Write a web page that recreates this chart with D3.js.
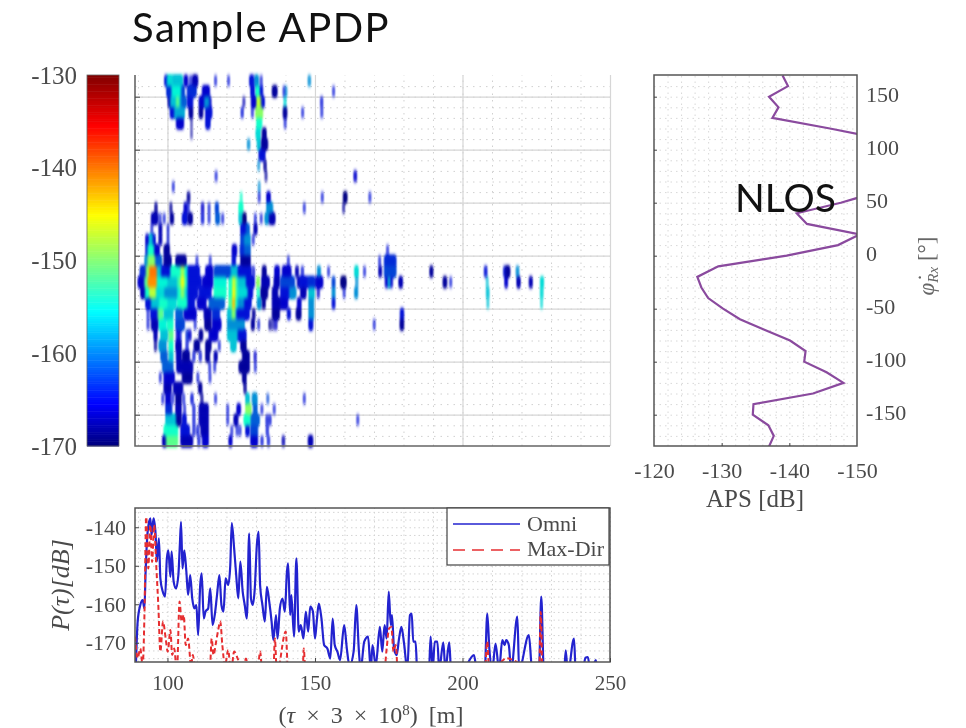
<!DOCTYPE html>
<html>
<head>
<meta charset="utf-8">
<script src="https://d3js.org/d3.v7.min.js"></script>
<style>
  html, body { margin: 0; padding: 0; background: #fff; }
  svg { display: block; }
  text { font-family: "Liberation Serif", serif; fill: #4a4a4a; }
  .slide { font-family: Lato, "Noto Sans", sans-serif; fill: #111; }
</style>
</head>
<body>
<div id="chart"></div>
<script>
// colour bar
const colorTicks = [-130, -140, -150, -160, -170];
const jetStops = [[-170, "#00007f"], [-165.6, "#0000ff"], [-155.6, "#00ffff"], [-145.2, "#ffff00"], [-135.6, "#ff0000"], [-130, "#7f0000"]];

// APDP: phi of the top edge of each 10 degree row, and [tau start, tau end, dB] runs per row
const apdpPhi = [170, 160, 150, 140, 130, 120, 110, 100, 90, 80, 70, 60, 50, 40, 30, 20, 10, 0, -10, -20, -30, -40, -50, -60, -70, -80, -90, -100, -110, -120, -130, -140, -150, -160, -170];
const apdpRuns = [
  [[99.1,99.8,-165],[99.8,101.7,-157],[101.7,105.1,-158],[105.7,106.8,-166],[107.6,108,-165],[108.5,110.2,-167],[116.1,116.5,-165],[120.5,120.9,-165],[127.9,129.2,-165],[129.6,130.8,-160],[131.6,132,-165],[147.8,148.4,-160]],
  [[99.8,101.4,-164],[101.4,104.6,-156],[104.6,105.7,-163],[106.8,109.7,-164],[111.9,114.2,-166],[128.3,129.4,-165],[130,131.1,-155],[131.4,132.2,-165],[135.6,137.1,-168],[139.3,139.7,-165],[140,140.4,-160],[156.1,156.5,-165]],
  [[100.3,101,-167],[101,102.9,-158],[102.9,104,-152],[104,104.6,-158],[104.6,106.3,-162],[106.8,108.5,-165],[110.8,112.5,-166],[112.5,114.2,-160],[114.2,114.7,-166],[125.7,126.1,-167],[128.5,130,-166],[130.3,131.7,-148],[131.7,132.8,-165],[139.6,140.1,-157],[152,152.5,-165]],
  [[101,102.3,-165],[102.3,105.7,-159],[107.4,108.5,-168],[110.8,111.9,-168],[113,115,-165],[125.1,125.6,-165],[128.6,129,-165],[130,132.2,-150],[139.3,140.4,-168],[145.6,146,-165],[152.1,152.5,-165]],
  [[103.1,105.4,-166],[108,108.3,-168],[113,114.4,-165],[130.3,131.9,-155],[139.7,140.1,-165]],
  [[108,108.3,-168],[130.1,131.4,-157],[132.2,133.4,-168]],
  [[127.2,127.8,-160],[130.5,131.4,-158],[131.9,133.9,-168]],
  [[131.1,133,-165]],
  [[130.7,131.1,-160],[132.8,133.4,-168]],
  [[116.3,116.7,-165],[133.2,133.6,-168],[163.3,164,-166]],
  [[101.8,102.2,-165],[130.9,131.3,-160]],
  [[106.8,107.5,-168],[124.8,125.2,-155],[130.9,131.3,-165],[133.7,134.8,-166],[152.3,152.7,-165],[159.7,160.8,-169],[168.4,168.8,-165]],
  [[95.8,96.4,-168],[100.9,101.4,-168],[105.7,106.5,-166],[106.9,107.3,-165],[111.6,112.2,-166],[113.9,114.3,-165],[116.3,117.2,-163],[124.3,125.5,-155],[133.7,135.6,-160],[146.2,146.6,-165],[159.5,159.9,-168]],
  [[94.6,96.7,-167],[97.3,97.7,-165],[98.7,99.1,-165],[101,102,-168],[105.1,106.6,-165],[107,108.4,-168],[111.6,112.2,-165],[113.9,114.3,-165],[116.4,117.6,-162],[118.5,118.9,-165],[124.3,125.2,-158],[125.5,126.6,-169],[129.6,130,-165],[131.6,132,-165],[133.1,134.2,-160],[134.5,136.4,-167]],
  [[94.5,94.9,-165],[97.2,98,-167],[100,100.4,-165],[124.9,126.6,-165],[126.6,127.7,-162],[129.4,130.3,-167]],
  [[92.7,93.5,-166],[93.8,95,-158],[95,95.8,-165],[97.2,98,-167],[100,100.4,-165],[124.9,126,-163],[126,128,-160],[128.9,129.3,-165]],
  [[92.7,93.3,-165],[93.3,95.5,-155],[95.5,97.2,-166],[98.9,100.6,-168],[122,123.4,-166],[124.7,126,-164],[126,128,-162],[174.4,174.8,-165]],
  [[92.4,93.3,-160],[93.3,95.8,-150],[95.8,98,-162],[98.9,101.2,-168],[102.9,106.3,-168],[109.8,110.2,-165],[114.3,114.7,-165],[122,123,-165],[124.9,128,-168],[140.8,141.2,-165],[171.7,172.1,-165],[173.6,177.4,-164]],
  [[90.8,92.7,-164],[92.7,93.8,-150],[93.8,96.4,-140],[96.4,97.8,-158],[97.8,101,-165],[101,103.4,-155],[103.4,104.5,-155],[104.5,105.8,-149],[105.8,106.8,-156],[106.8,110.8,-165],[113,115.3,-166],[115.9,121.5,-163],[121.5,123.8,-158],[123.8,128.3,-165],[128.9,129.4,-165],[132.2,133.4,-168],[136.4,137.9,-166],[139,141.8,-166],[143.5,144.3,-167],[145.5,146,-165],[150.9,151.8,-160],[154.4,154.8,-165],[163.5,164.6,-157],[166.6,167,-165],[171.7,172.5,-167],[173.6,177.4,-163],[189,189.9,-168],[207.5,208.2,-165],[214,214.5,-165],[214.6,216,-168],[218.3,219,-160]],
  [[90.1,92.2,-166],[92.2,93.3,-152],[93.3,96.4,-141],[96.4,100,-156],[100,103.4,-158],[103.4,104.5,-153],[104.5,105.8,-146],[105.8,106.8,-154],[106.8,111.4,-165],[111.9,115.3,-166],[115.9,119.8,-156],[120.9,122,-155],[122,123,-147],[123,123.8,-153],[123.8,126.6,-158],[126.6,129.4,-165],[130.3,131.1,-150],[132,134.5,-167],[136.2,137.9,-167],[138.4,143,-163],[144.1,144.7,-167],[144.7,147.5,-165],[147.5,150,-164],[150.3,152.6,-166],[155.9,156.7,-163],[158.8,160.5,-169],[163.9,164.4,-160],[173.9,174.6,-166],[174.8,175.4,-158],[175.6,176.2,-166],[178.5,179.6,-167],[193.5,194.6,-168],[195.8,196.2,-165],[208.2,208.6,-158],[214.4,215.2,-166],[218.5,219.5,-167],[222.7,223.6,-167],[226.5,227.4,-157]],
  [[91,92.4,-167],[92.4,93.8,-155],[93.8,96.1,-148],[96.1,98.9,-157],[98.9,103.4,-160],[103.4,104.5,-155],[104.5,105.8,-150],[105.8,106.8,-157],[106.8,110.2,-165],[110.8,114.7,-165],[115.9,119.8,-155],[120.9,122,-155],[122,123,-145],[123,123.8,-153],[123.8,127.2,-157],[127.2,128.8,-165],[130.5,131.1,-155],[131.7,133.9,-168],[135.6,137.3,-167],[138.4,141.3,-165],[141.3,143.5,-160],[145.2,146.9,-167],[148,149.7,-158],[150.9,151.4,-166],[155.9,156.7,-160],[159.7,160.1,-165],[163.5,164.4,-160],[208.2,208.9,-158],[226.5,227.2,-157]],
  [[92.7,94.4,-165],[94.4,97.2,-158],[97.2,100,-155],[100,102.9,-157],[103.4,106.8,-155],[106.8,109.1,-165],[110.2,113,-166],[114.2,119.3,-162],[120.9,122,-153],[122,123,-143],[123,123.8,-155],[123.8,126,-160],[126,128.3,-165],[130.5,131.7,-160],[132.2,133.1,-168],[135.6,138.4,-167],[138.4,140.7,-166],[144.1,145.2,-166],[148,149.5,-160],[155.9,156.7,-165],[208.4,208.8,-158],[226.6,227,-157]],
  [[93.2,93.6,-165],[94.4,96.7,-165],[96.7,98.4,-152],[98.9,101.8,-158],[102.9,105.1,-162],[105.7,109.7,-166],[112.5,114.7,-167],[115.3,117.6,-164],[120.4,121.8,-158],[121.8,123,-150],[123,123.4,-158],[123.4,127.7,-165],[128.9,129.6,-168],[135.6,137.9,-168],[140.7,141.6,-165],[143.7,145.2,-168],[148,149.5,-160],[179,180,-165]],
  [[93.2,93.6,-165],[94.6,96.7,-167],[97.2,99.5,-156],[100,101.8,-155],[102.9,105.7,-163],[109.2,109.6,-165],[112.7,114.7,-168],[115.3,118.1,-166],[120.4,126,-160],[128.5,129.4,-168],[130.7,131.1,-165],[134.5,135,-168],[135.6,136,-167],[136.5,137,-166],[148,149.2,-165],[169.9,170.3,-165],[178.9,180,-168]],
  [[95.5,96.4,-167],[97.8,100,-158],[100.6,101.8,-152],[103.1,103.7,-166],[104,104.5,-165],[106.4,107,-164],[107.3,107.9,-166],[110.8,111.9,-168],[114.2,117,-166],[120.4,123.8,-158],[123.8,126.6,-165]],
  [[95.7,96.2,-168],[97.2,99.5,-160],[100.6,101.8,-155],[102.9,104.6,-167],[106.4,106.9,-165],[109.1,110.8,-168],[113,114.7,-168],[117.4,117.8,-165],[121.5,123.2,-158],[124.9,126.6,-168]],
  [[97.8,99.8,-162],[100.6,101.8,-158],[103.1,104.6,-167],[105.1,107.4,-168],[108.7,109.2,-165],[110.9,111.4,-165],[113,114.2,-168],[115.9,116.8,-167],[125.5,127.7,-168],[129.5,130,-166]],
  [[98.4,101.8,-162],[103.2,108.5,-167],[114.1,114.5,-165],[115.8,116.2,-165],[124.3,127.7,-168],[129.6,130,-165]],
  [[97.4,97.8,-165],[98.9,102.3,-166],[105.1,108.3,-168],[110.1,110.5,-165],[114.2,114.6,-165],[125.5,126.6,-168]],
  [[98.9,101.2,-167],[102.1,105.1,-167],[110.6,111.6,-168],[126,126.6,-168]],
  [[98.2,98.6,-165],[99.5,101,-166],[101.6,102,-165],[102.9,104.6,-168],[105.3,105.7,-165],[108,108.6,-165],[111.4,111.9,-168],[116.1,116.5,-165],[126.6,127.7,-158],[128.8,130.3,-160],[133.8,134.2,-163],[146.2,146.6,-165]],
  [[99.5,101.4,-164],[102.9,104.6,-167],[105.6,106,-165],[108.7,109.2,-165],[110.8,113.8,-167],[120.2,120.6,-165],[123.6,124.7,-166],[126.6,128.3,-150],[129.2,130.3,-162],[131.8,132.2,-165],[136,136.4,-165]],
  [[99.5,102.9,-158],[102.9,104.6,-168],[105.1,106.3,-165],[108.7,109.2,-165],[110.8,113.8,-167],[120.2,120.6,-165],[122.6,123.8,-167],[126,128,-155],[128.3,131.1,-162],[133.5,134,-165],[134.5,135,-165],[164.3,164.7,-165]],
  [[98.9,103.4,-155],[104.6,107.4,-165],[108.7,109.2,-165],[110,110.5,-165],[111.4,113.8,-167],[121.6,122,-165],[123.4,123.8,-165],[124.4,124.8,-165],[126.6,127.7,-165],[128.3,130.5,-163],[133.6,134.1,-165]],
  [[98.4,99.5,-167],[99.5,103.4,-152],[104.6,108.5,-167],[110.4,110.9,-165],[111.9,113.8,-166],[120.9,121.8,-166],[128.3,130.5,-166],[131.8,132.3,-165],[134,134.5,-165],[139,139.6,-167],[147.8,149.2,-167]]
];

// power delay profile, samples under -175 dB fall off the bottom of the panel
const omniTau = [89.3,89.9,90.8,91.6,92.2,92.6,93.3,94.2,94.6,95.3,96,96.4,97.1,97.6,98.4,99.2,99.8,100.3,101,101.4,102.1,102.9,103.7,104.2,104.6,105.1,105.7,106.4,107,107.7,108.4,109.1,109.8,110.4,111.1,111.6,112.3,112.9,113.8,114.5,115.3,116.1,116.8,117.6,118.3,119,119.7,120.6,121.3,121.8,122.6,123.3,124,124.7,125.5,126.2,126.9,127.7,128.3,128.9,129.6,130.3,130.9,131.4,132.2,133,133.7,134.5,135.3,135.9,136.8,137.3,138.1,139,139.8,140.5,140.9,141.6,142,142.9,143.7,144.5,145.2,146.1,146.9,147.7,148.4,149.3,150,150.6,151.3,152.2,153.1,154.2,155.2,156,156.7,157.6,158.5,159.9,160.8,161.7,163.1,164,164.9,165.5,166.7,168,168.9,169.5,170.6,172,172.8,173.6,174.3,175,175.7,176.1,176.8,177.7,178.5,179.3,180.2,181.3,182.2,182.8,183.3,184.1,184.7,188.6,189.2,189.9,190.6,191.5,192.1,193.5,194.2,195.5,196.2,199.4,203.9,205,207.5,208.4,209.1,210.1,211.2,212.4,213.5,214.3,214.8,215.7,216.5,218.6,219.2,222.5,223.6,225.9,226.7,227.6,234.4,235,235.7,237.8,238.4,240.6,241.7,242.5,243.4,245.2,245.9];
const omniPower = [-176,-164.5,-160.2,-158.9,-161.1,-151.5,-141.1,-137.7,-142,-137.7,-142,-148.9,-142.9,-153.3,-156.7,-158,-148.1,-146,-152.9,-146.3,-154.1,-155.9,-152.4,-144.6,-138.6,-150.7,-146,-151.5,-157.6,-152.4,-158.5,-161.1,-160.2,-168,-155,-152,-163.7,-161.9,-161.1,-155.9,-165.4,-162.4,-157.6,-152.4,-160.2,-161.9,-153.3,-155,-149.8,-138.9,-145.5,-152.4,-158.5,-148.9,-156.7,-160.2,-163.7,-141.6,-158.5,-160.2,-155.9,-144.6,-141.1,-155,-160.2,-164.5,-155.5,-159.3,-164.5,-169.3,-162.8,-168.9,-161.1,-158.5,-161.9,-151.5,-149.4,-162.8,-157.6,-168.4,-148.1,-167.1,-165.4,-168.9,-161.9,-167.1,-160.6,-161.9,-168.9,-164.5,-159.8,-163.7,-170.6,-171.5,-174.1,-163.7,-170.6,-172.3,-174.5,-165.4,-171.5,-176,-172.3,-160.2,-172.3,-177,-169.7,-168.4,-177,-170.6,-176,-165.9,-172.3,-165.4,-168.9,-156.7,-165.4,-162.8,-171.5,-173.2,-168.9,-165.9,-170.2,-177,-162.8,-162.4,-169.7,-169.7,-178,-178,-168.4,-177,-169.7,-169.7,-177,-169.9,-177,-169.9,-178,-178,-173.2,-178,-178,-162.4,-171.5,-177,-170.2,-177,-169.3,-170.6,-169.3,-170.6,-177,-163.2,-177,-168,-177,-178,-158,-178,-178,-172,-178,-168.9,-178,-178,-173.9,-173.7,-178,-174.5,-178];
const maxDirTau = [89,89.9,90.8,91.6,92.2,92.8,93.5,94.2,94.8,95.5,96.2,96.9,97.6,98.5,99.4,100.1,101,101.6,102.3,103.2,104.1,104.8,105.5,106.2,107,108,108.6,109.5,114.3,115,115.6,116.5,117.2,117.9,118.6,119.5,120.6,121.5,122.6,123.8,125.5,126.6,127.7,130.5,131.4,132.2,133.7,135.9,136.4,137.1,140.1,140.9,145.8,146.2,146.8,173.4,174.3,175.1,175.9,176.6,177.4,178.1,199.8,201.2,207.5,208.4,209.1,213.8,214.6,226,226.5,227];
const maxDirPower = [-168.4,-174,-171.5,-176,-162.8,-137.3,-150.7,-139.4,-149,-139.4,-150,-160.2,-172.3,-164.5,-168.9,-172.3,-166.7,-173.2,-171.5,-178,-159.3,-164.5,-162.8,-170.6,-168.9,-176,-173.2,-178,-178,-168.9,-173.2,-169.7,-166.7,-164.5,-170.6,-176,-171.9,-178,-172.3,-174.1,-178,-174.1,-178,-178,-172.3,-178,-178,-178,-168.9,-178,-167.1,-178,-178,-171.5,-178,-178,-171.5,-166.3,-165.9,-172.3,-170.6,-178,-178,-178,-178,-169.7,-178,-174.5,-174,-178,-162,-178];

// angular power spectrum
const apsPhi = [170,160,150,140,130,120,110,100,90,80,70,60,50,40,30,20,10,0,-10,-20,-30,-40,-50,-60,-70,-80,-90,-100,-110,-120,-130,-140,-150,-160,-170,-180];
const apsPower = [-139,-139.8,-137,-138.4,-137.5,-146,-154,-158,-160,-160,-158,-153,-147.6,-141.1,-142.6,-150.4,-147.2,-139.6,-129.5,-126.4,-127,-128,-130.2,-132.7,-136.4,-140.1,-142.4,-142.2,-145.5,-148,-143.5,-134.7,-134.6,-136.9,-137.7,-137];

const svg = d3.select("#chart").append("svg")
    .attr("width", 966)
    .attr("height", 728);

// the source is a soft screenshot of a figure, so everything but the slide text gets a slight blur
const defs = svg.append("defs");
defs.append("filter").attr("id", "soft").attr("x", "-5%").attr("y", "-5%").attr("width", "110%").attr("height", "110%")
    .attr("color-interpolation-filters", "sRGB")
  .append("feGaussianBlur").attr("stdDeviation", 0.5);
const smear = defs.append("filter").attr("id", "smear").attr("x", "-5%").attr("y", "-5%").attr("width", "110%").attr("height", "110%")
    .attr("color-interpolation-filters", "sRGB");
smear.append("feGaussianBlur").attr("stdDeviation", "1.1 1.9");
const heatTone = smear.append("feComponentTransfer");
heatTone.append("feFuncA").attr("type", "table").attr("tableValues", "0 0.6 0.95 1");
heatTone.append("feFuncB").attr("type", "linear").attr("slope", 0.84);

const fig = svg.append("g").attr("filter", "url(#soft)");

const xTau = d3.scaleLinear().domain([89, 250]).range([135, 610]);
const yPhi = d3.scaleLinear().domain([-180, 170]).range([446.5, 75.5]);
const yColor = d3.scaleLinear().domain([-170, -130]).range([446, 75]);
const xAps = d3.scaleLinear().domain([-120, -150]).range([654, 857]);
const yPow = d3.scaleLinear().domain([-175, -135]).range([662, 508]);
const jet = d3.scaleLinear().domain(jetStops.map(d => d[0])).range(jetStops.map(d => d[1])).clamp(true);

const plain = d => String(d);

function grid(g, axis, cls, color, dash, width) {
  g.attr("class", cls).call(axis).call(s => s.select(".domain").remove());
  g.selectAll("text").remove();
  g.selectAll("line").attr("stroke", color).attr("stroke-width", width).attr("stroke-dasharray", dash);
}

function styleAxis(g, size) {
  g.select(".domain").remove();
  g.selectAll("text").style("font-family", '"Liberation Serif", serif').style("font-size", size + "px").attr("fill", "#4a4a4a");
  g.selectAll("line").attr("stroke", "#444");
}

// colour bar
fig.append("g").selectAll("rect")
  .data(d3.range(-170, -130, 0.25))
  .enter().append("rect")
    .attr("x", 87)
    .attr("width", 32)
    .attr("y", d => yColor(d + 0.25))
    .attr("height", d => yColor(d) - yColor(d + 0.25) + 0.5)
    .attr("fill", d => jet(d));
fig.append("rect").attr("x", 87).attr("y", 75).attr("width", 32).attr("height", 371)
  .attr("fill", "none").attr("stroke", "#666").attr("stroke-width", 0.8);
fig.append("g").attr("transform", "translate(87,0)")
  .call(d3.axisLeft(yColor).tickValues(colorTicks).tickSize(0).tickPadding(10).tickFormat(plain))
  .call(styleAxis, 25);

// APDP panel
fig.append("g").attr("transform", "translate(0,446)")
  .call(grid, d3.axisBottom(xTau).tickValues(d3.range(90, 251, 10)).tickSize(-371), "minor", "#d0d0d0", "1.5 5", 1);
fig.append("g").attr("transform", "translate(135,0)")
  .call(grid, d3.axisRight(yPhi).tickValues(d3.range(-170, 170, 10)).tickSize(475), "minor", "#d0d0d0", "1.5 5", 1);
fig.append("g").attr("transform", "translate(0,446)")
  .call(grid, d3.axisBottom(xTau).tickValues([100, 150, 200, 250]).tickSize(-371), "major", "#d6d6d6", null, 1.2);
fig.append("g").attr("transform", "translate(135,0)")
  .call(grid, d3.axisRight(yPhi).tickValues(d3.range(-150, 151, 50)).tickSize(475), "major", "#d6d6d6", null, 1.2);

const apdp = fig.append("g").attr("filter", "url(#smear)");
apdpPhi.forEach((phi, i) => {
  apdp.append("g").selectAll("rect")
    .data(apdpRuns[i])
    .enter().append("rect")
      .attr("x", d => xTau(d[0]))
      .attr("width", d => xTau(d[1]) - xTau(d[0]))
      .attr("y", yPhi(phi))
      .attr("height", yPhi(phi - 10) - yPhi(phi))
      .attr("fill", d => jet(d[2]));
});

fig.append("path").attr("d", "M135,75V446H610").attr("fill", "none").attr("stroke", "#666").attr("stroke-width", 1.6);
fig.append("g").attr("transform", "translate(135,0)")
  .call(d3.axisRight(yPhi).tickValues(d3.range(-150, 151, 50)).tickSize(5).tickFormat(""))
  .call(styleAxis, 10);

// delay profile panel
fig.append("g").attr("transform", "translate(0,662)")
  .call(grid, d3.axisBottom(xTau).tickValues(d3.range(90, 251, 10)).tickSize(-154), "minor", "#d4d4d4", "1.5 3", 1);
fig.append("g").attr("transform", "translate(135,0)")
  .call(grid, d3.axisRight(yPow).tickValues(d3.range(-174, -135, 2)).tickSize(475), "minor", "#d4d4d4", "1.5 3", 1);

svg.append("clipPath").attr("id", "pow-clip").append("rect").attr("x", 135).attr("y", 508).attr("width", 475).attr("height", 154);
const profile = d3.line().x(d => xTau(d[0])).y(d => yPow(d[1])).curve(d3.curveMonotoneX);
const omni = omniTau.map((t, i) => [t, omniPower[i]]);
const maxDir = maxDirTau.map((t, i) => [t, maxDirPower[i]]);
const traces = fig.append("g").attr("clip-path", "url(#pow-clip)");
traces.append("path").datum(omni).attr("d", profile).attr("fill", "none").attr("stroke", "#2323cf").attr("stroke-width", 2.2);
traces.append("path").datum(maxDir).attr("d", profile).attr("fill", "none").attr("stroke", "#e62e30").attr("stroke-width", 2).attr("stroke-dasharray", "5 3");

fig.append("rect").attr("x", 135).attr("y", 508).attr("width", 475).attr("height", 154)
  .attr("fill", "none").attr("stroke", "#555").attr("stroke-width", 1.5);
fig.append("g").attr("transform", "translate(0,662)")
  .call(d3.axisBottom(xTau).tickValues([100, 150, 200, 250]).tickSize(0).tickPadding(13).tickFormat(plain))
  .call(styleAxis, 21);
fig.append("g").attr("transform", "translate(135,0)")
  .call(d3.axisLeft(yPow).tickValues([-140, -150, -160, -170]).tickSize(0).tickPadding(9).tickFormat(plain))
  .call(styleAxis, 22);
fig.append("g").attr("transform", "translate(135,0)")
  .call(d3.axisRight(yPow).tickValues([-140, -150, -160, -170]).tickSize(4).tickFormat(""))
  .call(styleAxis, 10);
fig.append("g").attr("transform", "translate(0,662)")
  .call(d3.axisTop(xTau).tickValues([100, 150, 200, 250]).tickSize(4).tickFormat(""))
  .call(styleAxis, 10);

// legend
fig.append("rect").attr("x", 447).attr("y", 508).attr("width", 162).attr("height", 57)
  .attr("fill", "#fff").attr("stroke", "#444").attr("stroke-width", 1.2);
fig.append("line").attr("x1", 453).attr("x2", 520).attr("y1", 524).attr("y2", 524).attr("stroke", "#2323cf").attr("stroke-width", 1.6);
fig.append("line").attr("x1", 453).attr("x2", 520).attr("y1", 550).attr("y2", 550).attr("stroke", "#e62e30").attr("stroke-width", 1.6).attr("stroke-dasharray", "12 7");
fig.append("text").attr("x", 527).attr("y", 531).style("font-size", "22px").text("Omni");
fig.append("text").attr("x", 527).attr("y", 556).style("font-size", "22px").text("Max-Dir");

// axis titles for the delay profile
fig.append("text").attr("transform", "translate(69,585) rotate(-90)").attr("text-anchor", "middle")
  .style("font-size", "26px").style("font-style", "italic").text("P(τ)[dB]");
fig.append("text").attr("x", 371).attr("y", 723).attr("text-anchor", "middle")
  .style("font-size", "24px").style("word-spacing", "5px")
  .html('(<tspan font-style="italic">τ</tspan> × 3 × 10<tspan dy="-8" font-size="15">8</tspan><tspan dy="8">) [m]</tspan>');

// APS panel
fig.append("g").attr("transform", "translate(0,446)")
  .call(grid, d3.axisBottom(xAps).tickValues(d3.range(-122, -150, -2)).tickSize(-371), "minor", "#d8d8d8", "1.5 4", 1);
fig.append("g").attr("transform", "translate(654,0)")
  .call(grid, d3.axisRight(yPhi).tickValues(d3.range(-170, 170, 10)).tickSize(203), "minor", "#d8d8d8", "1.5 4", 1);

const apsLine = d3.line().x(d => xAps(d[0])).y(d => yPhi(d[1]));
svg.append("clipPath").attr("id", "aps-clip").append("rect").attr("x", 654).attr("y", 75).attr("width", 203).attr("height", 371);
fig.append("g").attr("clip-path", "url(#aps-clip)").append("path")
    .datum(apsPhi.map((p, i) => [apsPower[i], p]))
    .attr("d", apsLine)
    .attr("fill", "none").attr("stroke", "#8a4a9e").attr("stroke-width", 2.2);

fig.append("rect").attr("x", 654).attr("y", 75).attr("width", 203).attr("height", 371)
  .attr("fill", "none").attr("stroke", "#555").attr("stroke-width", 1.5);
fig.append("g").attr("transform", "translate(0,446)")
  .call(d3.axisBottom(xAps).tickValues([-120, -130, -140, -150]).tickSize(0).tickPadding(16).tickFormat(plain))
  .call(styleAxis, 22);
fig.append("g").attr("transform", "translate(857,0)")
  .call(d3.axisRight(yPhi).tickValues([150, 100, 50, 0, -50, -100, -150]).tickSize(0).tickPadding(9).tickFormat(plain))
  .call(styleAxis, 22)
  .call(g => g.selectAll("text").attr("dy", "0.2em"));
fig.append("g").attr("transform", "translate(654,0)")
  .call(d3.axisRight(yPhi).tickValues([150, 100, 50, 0, -50, -100, -150]).tickSize(3).tickFormat(""))
  .call(styleAxis, 10);
fig.append("g").attr("transform", "translate(0,446)")
  .call(d3.axisTop(xAps).tickValues([-130, -140]).tickSize(3).tickFormat(""))
  .call(styleAxis, 10);
fig.append("text").attr("x", 755).attr("y", 507).attr("text-anchor", "middle")
  .style("font-size", "25px").text("APS [dB]");
fig.append("text").attr("transform", "translate(934,266) rotate(-90)").attr("text-anchor", "middle")
  .style("font-size", "23px").style("fill", "#666")
  .html('<tspan font-style="italic">φ̇</tspan><tspan dy="4" font-size="15" font-style="italic">Rx</tspan><tspan dy="-4"> [°]</tspan>');

// text laid over the figure on the slide
svg.append("text").attr("class", "slide").attr("x", 132).attr("y", 42).style("font-size", "40px").style("letter-spacing", "1.5px").text("Sample APDP");
svg.append("text").attr("class", "slide").attr("x", 735).attr("y", 212).style("font-size", "39px").text("NLOS");
</script>
</body>
</html>
